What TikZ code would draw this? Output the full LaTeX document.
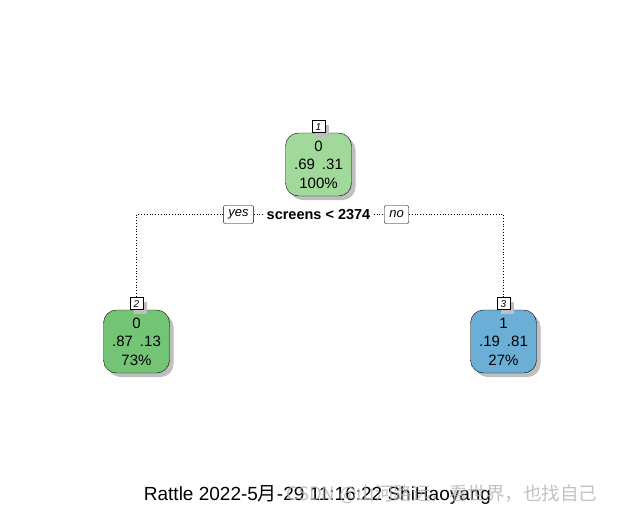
\documentclass[tikz,border=0pt]{standalone}
\usepackage{fontspec}
\setmainfont{Liberation Sans}
\newfontfamily\cjk{Noto Sans CJK SC}
\usetikzlibrary{shadows}
\definecolor{rootgreen}{RGB}{161,217,155}
\definecolor{leafgreen}{RGB}{116,196,118}
\definecolor{leafblue}{RGB}{107,174,214}
\begin{document}
\begin{tikzpicture}[x=1pt,y=-1pt,
        shade/.style={drop shadow={shadow xshift=4pt,shadow yshift=-4pt,fill=black!25,opacity=1}},
        leaf/.style={draw=black,rounded corners=13pt,minimum width=66pt,minimum height=63pt,
                inner sep=0pt,align=center,font=\fontsize{15}{18.5}\selectfont,shade},
        tag/.style={draw=black,fill=white,minimum width=13pt,minimum height=12pt,inner sep=0pt,
                font=\fontsize{10}{10}\selectfont\itshape,shade,anchor=south},
        lab/.style={draw=black,fill=white,rounded corners=2pt,inner xsep=5pt,inner ysep=3pt,
                minimum height=18pt,font=\fontsize{13}{13}\selectfont\itshape},
        link/.style={dotted,line width=0.8pt}]
        \useasboundingbox (0,0) rectangle (617,514);
        % nodes
        \node [leaf,fill=rootgreen] (n1) at (318.5,164.5) {0\\.69\hspace{7pt}.31\\100\%};
        \node [tag] (t1) at (n1.north) {1};
        \node [leaf,fill=leafgreen] (n2) at (136.5,341.5) {0\\.87\hspace{7pt}.13\\73\%};
        \node [tag] (t2) at (n2.north) {2};
        \node [leaf,fill=leafblue] (n3) at (503.5,341.5) {1\\.19\hspace{7pt}.81\\27\%};
        \node [tag] (t3) at (n3.north) {3};
        % split
        \node [font=\fontsize{14.5}{14.5}\selectfont\bfseries] (split) at (318.5,214.5) {screens < 2374};
        \node [lab] (yes) at (238.5,214.5) {yes};
        \node [lab] (no) at (396.5,214.5) {no};
        \draw [link] (yes.west) -| (t2.north);
        \draw [link] (no.east) -| (t3.north);
        \draw [link] (yes.east) -- (split.west);
        \draw [link] (split.east) -- (no.west);
        % caption
        \node [font=\fontsize{19}{19}\selectfont,anchor=base] (title) at (317.5,500)
                {Rattle 2022-5{\cjk 月}-29 11:16:22 ShiHaoyang};
        %\draw (317.5,500) circle (2);
        \node [font=\cjk\fontsize{18.5}{18.5}\selectfont,text=black!30,text opacity=0.8,anchor=base east] (mark)
                at (601,500) {CSDN @山河路远，看世界，也找自己};
\end{tikzpicture}
\end{document}
